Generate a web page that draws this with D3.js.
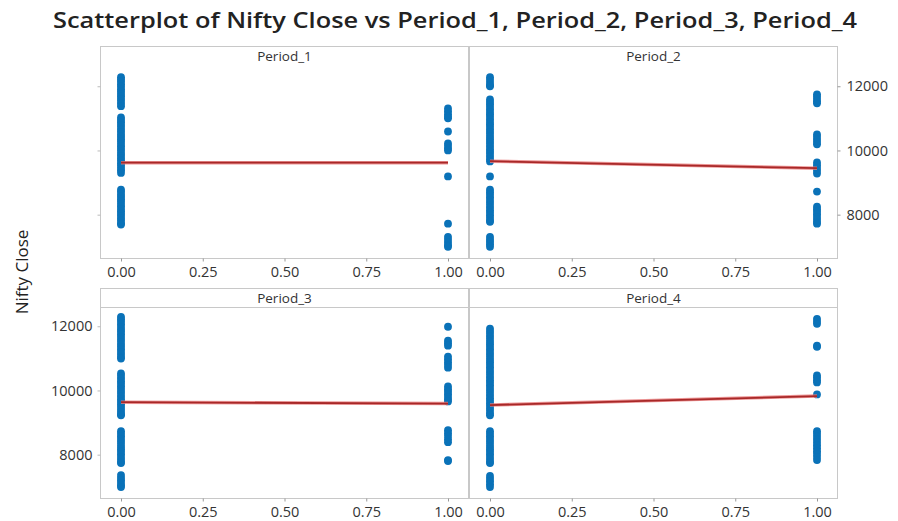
<!DOCTYPE html>
<html>
<head>
<meta charset="utf-8">
<script src="https://cdn.jsdelivr.net/npm/d3@7"></script>
<style>
  html, body { margin: 0; padding: 0; background: #fff; }
  svg { display: block; font-family: "Open Sans", "Noto Sans", sans-serif; }
</style>
</head>
<body>
<svg id="chart" width="898" height="521"></svg>
<script>
// ---------- data ----------
const periods = ["Period_1", "Period_2", "Period_3", "Period_4"];
const xTicks = [0, 0.25, 0.5, 0.75, 1];
const yTicks = [8000, 10000, 12000];

const period1Zero = [12280,12210,12140,12060,11990,11910,11840,11760,11690,11610,11540,11460,11380,
  11030,10950,10880,10800,10730,10650,10580,10500,10430,10350,10280,10200,10130,10050,9980,9900,9830,9750,9680,9600,9530,9450,9380,9300,
  8780,8710,8630,8560,8480,8410,8330,8260,8180,8110,8030,7960,7880,7810,7730,7690];
const period1One = [11310,11220,11130,11050,11000,10590,10220,10140,10060,10000,9190,7720,7310,7220,7130,7050,7000];

const period2Zero = [12280,12200,12110,12030,12000,
  11590,11510,11440,11360,11280,11200,11130,11050,10970,10890,10820,10740,10660,10580,10510,10430,10350,10270,10200,10120,10040,9960,9890,9810,9730,9660,
  9190,
  8780,8700,8620,8540,8460,8380,8300,8220,8140,8060,7980,7900,7820,7780,
  7310,7230,7160,7080,7000];
const period2One = [11750,11680,11600,11530,11470,10500,10420,10340,10260,10190,9625,9540,9450,9370,9280,8720,8250,8170,8090,8010,7930,7850,7770,7720];

const period3Zero = [12295,12220,12140,12060,11980,11900,11830,11750,11670,11590,11510,11430,11360,11280,11200,11120,11040,10993,
  10528,10450,10370,10290,10210,10130,10050,9970,9890,9810,9730,9650,9570,9490,9410,9330,9260,9226,
  8730,8650,8570,8490,8410,8330,8250,8170,8090,8010,7930,7850,7770,7737,
  7365,7280,7200,7120,7040,6993];
const period3One = [11985,11550,11470,11395,11055,10970,10880,10800,10710,10125,10040,9960,9880,9800,9720,9660,8760,8670,8580,8480,8390,7830,7800];

const period4Zero = [11922,11840,11760,11680,11600,11520,11440,11360,11280,11200,11120,11040,10960,10880,10800,10720,10640,10560,10480,10400,10320,10240,10160,10080,10000,9920,9840,9760,9680,9600,9520,9440,9360,9280,9226,
  8730,8650,8570,8490,8410,8330,8250,8170,8090,8010,7930,7850,7770,7737,
  7335,7250,7170,7080,6993];
const period4One = [12232,12150,12077,11395,11360,10466,10400,10320,10250,9876,8730,8650,8560,8470,8380,8290,8200,8110,8020,7930,7830];

const fitAtZero = [9620, 9666, 9635, 9545];
const fitAtOne  = [9620, 9447, 9590, 9824];

const zeroGroups = [period1Zero, period2Zero, period3Zero, period4Zero];
const oneGroups  = [period1One, period2One, period3One, period4One];

// ---------- layout ----------
const svg = d3.select("#chart");
const colX = [[100, 469], [469, 838]];
const rowY = [[46, 258], [288, 498]];
const stripH = [21, 19];
const yDomain = [6650, 12600];
const ptColor = "#0a72b8";
const borderColor = "#c8c8c8";
const tickFont = 14.5;

svg.append("text")
  .attr("x", 455).attr("y", 28)
  .attr("text-anchor", "middle")
  .attr("font-size", 22).attr("font-weight", 600)
  .attr("fill", "#222")
  .attr("textLength", 804).attr("lengthAdjust", "spacingAndGlyphs")
  .text("Scatterplot of Nifty Close vs Period_1, Period_2, Period_3, Period_4");

svg.append("text")
  .attr("transform", "translate(28,272) rotate(-90)")
  .attr("text-anchor", "middle")
  .attr("font-size", 17).attr("fill", "#222")
  .text("Nifty Close");

periods.forEach((name, i) => {
  const c = i % 2, r = Math.floor(i / 2);
  const [x0, x1] = colX[c];
  const [y0, y1] = rowY[r];
  const g = svg.append("g");

  const x = d3.scaleLinear().domain([0, 1]).range([x0 + 21, x1 - 21]);
  const y = d3.scaleLinear().domain(yDomain).range([y1, y0 + stripH[r]]);

  g.append("rect").attr("x", x0 + 0.5).attr("y", y0 + 0.5)
    .attr("width", x1 - x0 - 1).attr("height", y1 - y0)
    .attr("fill", "none").attr("stroke", borderColor);
  if (r === 1) {
    g.append("line").attr("x1", x0).attr("x2", x1)
      .attr("y1", y0 + stripH[r] + 0.5).attr("y2", y0 + stripH[r] + 0.5)
      .attr("stroke", borderColor);
  }
  g.append("text").attr("x", (x0 + x1) / 2).attr("y", y0 + 15)
    .attr("text-anchor", "middle").attr("font-size", 13.5).attr("fill", "#333")
    .text(name);

  const xAxis = d3.axisBottom(x).tickValues(xTicks).tickFormat(d3.format(".2f"))
    .tickSize(3).tickPadding(5);
  const xa = g.append("g").attr("transform", `translate(0,${y1 + 0.5})`).call(xAxis);
  xa.select(".domain").remove();
  xa.selectAll("line").attr("stroke", "#999");
  xa.selectAll("text").attr("font-size", tickFont).attr("fill", "#333")
    .attr("font-family", "'Open Sans', sans-serif");

  if (c === 0) {
    const ya = g.append("g").attr("transform", `translate(${x0 + 0.5},0)`)
      .call(d3.axisLeft(y).tickValues(yTicks).tickSize(3).tickPadding(5)
        .tickFormat(r === 1 ? d3.format("d") : () => ""));
    ya.select(".domain").remove();
    ya.selectAll("line").attr("stroke", "#bbb");
    ya.selectAll("text").attr("font-size", tickFont).attr("fill", "#333")
      .attr("font-family", "'Open Sans', sans-serif");
  } else if (r === 0) {
    const ya = g.append("g").attr("transform", `translate(${x1 - 0.5},0)`)
      .call(d3.axisRight(y).tickValues(yTicks).tickSize(3).tickPadding(6).tickFormat(d3.format("d")));
    ya.select(".domain").remove();
    ya.selectAll("line").attr("stroke", "#999");
    ya.selectAll("text").attr("font-size", tickFont).attr("fill", "#333")
      .attr("font-family", "'Open Sans', sans-serif");
  }

  const pts = zeroGroups[i].map(v => ({ x: 0, y: v }))
    .concat(oneGroups[i].map(v => ({ x: 1, y: v })));
  g.selectAll("circle.pt").data(pts).enter().append("circle")
    .attr("class", "pt")
    .attr("cx", d => x(d.x)).attr("cy", d => y(d.y))
    .attr("r", 3.9).attr("fill", ptColor);

  const fit = [{ x: 0, y: fitAtZero[i] }, { x: 1, y: fitAtOne[i] }];
  const line = d3.line().x(d => x(d.x)).y(d => y(d.y));
  g.append("path").attr("d", line(fit)).attr("fill", "none")
    .attr("stroke", "#e77a7a").attr("stroke-width", 3.5).attr("opacity", 0.8);
  g.append("path").attr("d", line(fit)).attr("fill", "none")
    .attr("stroke", "#a82828").attr("stroke-width", 1.8);
});
</script>
</body>
</html>
